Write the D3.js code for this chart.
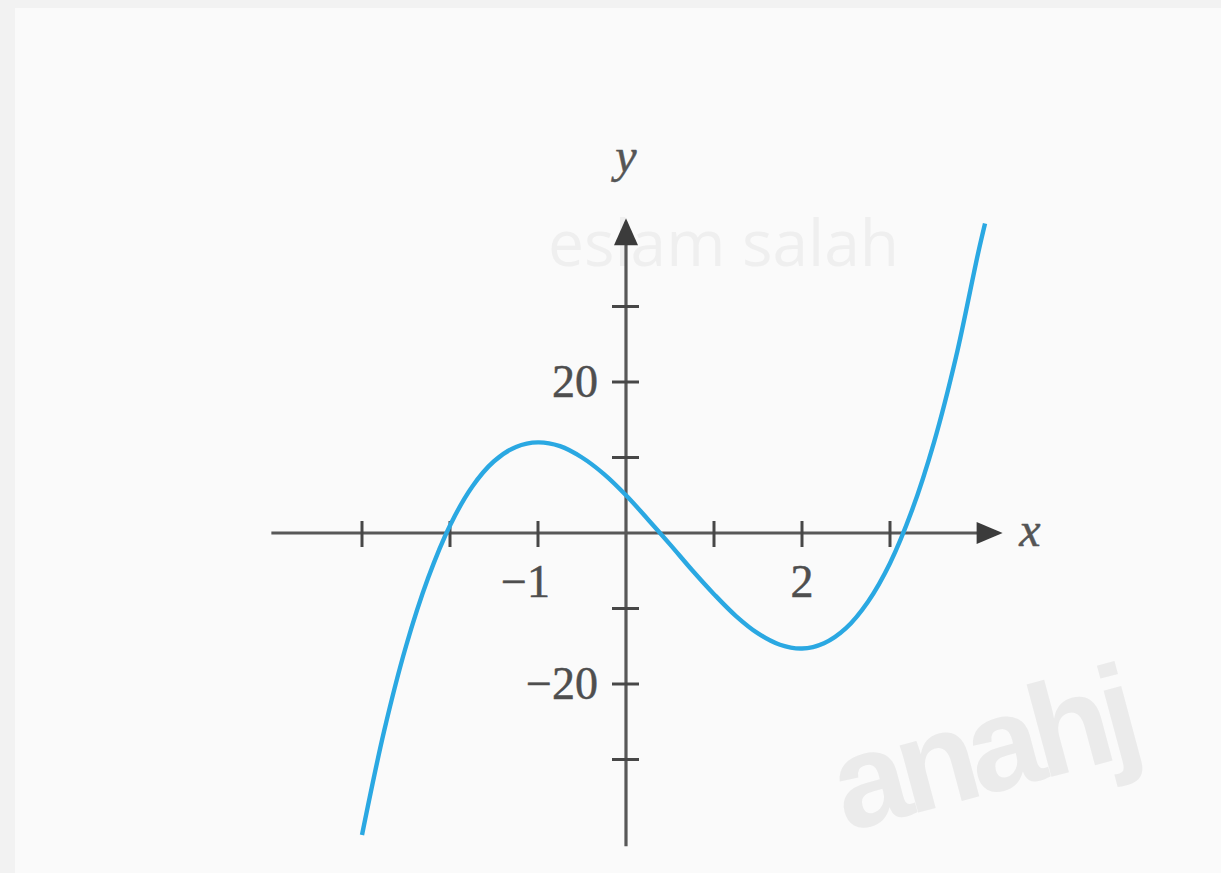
<!DOCTYPE html>
<html>
<head>
<meta charset="utf-8">
<script src="https://cdn.jsdelivr.net/npm/d3@7"></script>
<style>
  html, body { margin: 0; padding: 0; background: #f2f2f2; }
  svg { display: block; }
</style>
</head>
<body>
<svg id="chart" width="1221" height="873"></svg>
<script>
// Points along the plotted curve (x, y)
const curveX = [-3, -2.75, -2.5, -2.25, -2, -1.75, -1.5, -1.25, -1, -0.75, -0.5, -0.25,
                0, 0.25, 0.5, 0.75, 1, 1.25, 1.5, 1.75, 2, 2.25, 2.5, 2.75, 3, 3.25, 3.5, 3.75, 4, 4.08];
const curveY = [-40, -26.3, -15, -6, 1, 6.1, 9.5, 11.4, 12, 11.5, 10, 7.8,
                5, 1.8, -1.5, -4.9, -8.1, -11, -13.3, -14.8, -15.3, -14.6, -12.6, -9.1, -4, 3, 12, 23.3, 37, 41];

// Axis ticks and the labelled values
const xTicks = [-3, -2, -1, 1, 2, 3];
const xTickLabels = [{ v: -1, t: "\u22121" }, { v: 2, t: "2" }];
const yTicks = [-30, -20, -10, 10, 20, 30];
const yTickLabels = [{ v: 20, t: "20" }, { v: -20, t: "\u221220" }];

const svg = d3.select("#chart");

const defs = svg.append("defs");
defs.append("filter").attr("id", "soft")
  .append("feGaussianBlur").attr("stdDeviation", 0.6);

// page panel
svg.append("rect").attr("x", 15).attr("y", 8).attr("width", 1206).attr("height", 865).attr("fill", "#fafafa");

const x = d3.scaleLinear().domain([-4, 4]).range([274, 978]);
const y = d3.scaleLinear().domain([-40, 40]).range([835, 231]);

const axisColor = "#585858";
const tickColor = "#474747";
const serif = "Liberation Serif";

// faint watermarks
svg.append("text")
  .attr("x", 548).attr("y", 266)
  .attr("font-family", "Open Sans")
  .attr("font-size", 64)
  .attr("fill", "#efefef")
  .text("eslam salah");

svg.append("text")
  .attr("transform", "translate(846,832) rotate(-15)")
  .attr("font-family", "Liberation Sans")
  .attr("font-weight", "bold")
  .attr("font-size", 132)
  .attr("letter-spacing", -8)
  .attr("fill", "#ebebeb")
  .text("anahj");

const g = svg.append("g").attr("filter", "url(#soft)");

// axes lines
const x0 = x(0), y0 = y(0);
g.append("line")
  .attr("x1", x(-4.03)).attr("x2", x(4.05))
  .attr("y1", y0).attr("y2", y0)
  .attr("stroke", axisColor).attr("stroke-width", 3.2);
g.append("line")
  .attr("x1", x0).attr("x2", x0)
  .attr("y1", y(-41.5)).attr("y2", y(39.5))
  .attr("stroke", axisColor).attr("stroke-width", 3.2);

// arrowheads
const xa = x(4.28), ya = y(41.7);
g.append("path")
  .attr("d", `M${xa},${y0} L${xa - 26},${y0 - 11} L${xa - 26},${y0 + 11} Z`)
  .attr("fill", "#3a3a3a");
g.append("path")
  .attr("d", `M${x0},${ya} L${x0 - 12},${ya + 27} L${x0 + 12},${ya + 27} Z`)
  .attr("fill", "#3a3a3a");

// tick marks
g.selectAll("line.xt").data(xTicks).join("line")
  .attr("x1", d => x(d)).attr("x2", d => x(d))
  .attr("y1", y0 - 12).attr("y2", y0 + 14)
  .attr("stroke", tickColor).attr("stroke-width", 3);
g.selectAll("line.yt").data(yTicks).join("line")
  .attr("x1", x0 - 14).attr("x2", x0 + 13)
  .attr("y1", d => y(d)).attr("y2", d => y(d))
  .attr("stroke", tickColor).attr("stroke-width", 3);

// tick labels
svg.selectAll("text.xl").data(xTickLabels).join("text")
  .attr("class", "xl")
  .attr("x", d => d.v < 0 ? x(d.v) + 12 : x(d.v))
  .attr("y", y0 + 64)
  .attr("text-anchor", d => d.v < 0 ? "end" : "middle")
  .attr("font-family", serif).attr("font-size", 46)
  .attr("fill", "#4e4e4e").attr("stroke", "#4e4e4e").attr("stroke-width", 0.5)
  .text(d => d.t);
svg.selectAll("text.yl").data(yTickLabels).join("text")
  .attr("class", "yl")
  .attr("x", x0 - 28)
  .attr("y", d => y(d.v) + 15)
  .attr("text-anchor", "end")
  .attr("font-family", serif).attr("font-size", 46)
  .attr("fill", "#4e4e4e").attr("stroke", "#4e4e4e").attr("stroke-width", 0.5)
  .text(d => d.t);

// axis names
svg.append("text")
  .attr("x", 1030).attr("y", 546)
  .attr("text-anchor", "middle")
  .attr("font-family", serif).attr("font-style", "italic").attr("font-size", 48)
  .attr("fill", "#555").attr("stroke", "#555").attr("stroke-width", 0.5).text("x");
svg.append("text")
  .attr("x", 626).attr("y", 172)
  .attr("text-anchor", "middle")
  .attr("font-family", serif).attr("font-style", "italic").attr("font-size", 48)
  .attr("fill", "#555").attr("stroke", "#555").attr("stroke-width", 0.5).text("y");

// the curve
const pts = curveX.map((v, i) => [v, curveY[i]]);
const line = d3.line().x(d => x(d[0])).y(d => y(d[1])).curve(d3.curveCatmullRom.alpha(0.5));
g.append("path")
  .datum(pts)
  .attr("d", line)
  .attr("fill", "none")
  .attr("stroke", "#2ba8e2")
  .attr("stroke-width", 4.4)
  .attr("stroke-linecap", "butt");
</script>
</body>
</html>
